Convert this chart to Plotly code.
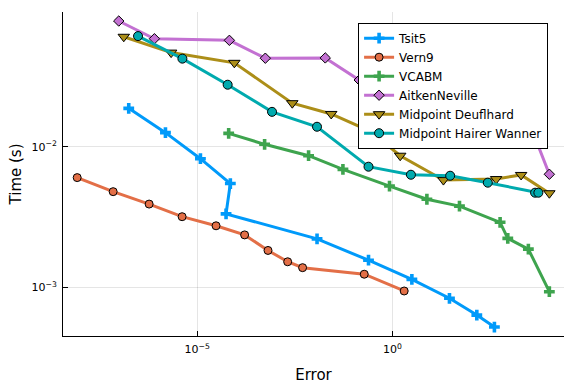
import plotly.graph_objects as go

# ---- data (Error, Time in seconds) ----
tsit5_err = [1.77e-7, 1.54e-6, 1.21e-5, 7.06e-5, 5.48e-5, 1.17e-2, 0.243, 3.13, 28.7, 144, 406]
tsit5_time = [0.01875, 0.01259, 0.00822, 0.00547, 0.00333, 0.00221, 0.00156, 0.00114, 0.000836, 0.000635, 0.000522]

vern9_err = [8.47e-9, 7.06e-8, 5.89e-7, 4.11e-6, 3.04e-5, 1.64e-4, 6.50e-4, 2.07e-3, 4.99e-3, 0.189, 1.99]
vern9_time = [0.00603, 0.00479, 0.00391, 0.00318, 0.00274, 0.00236, 0.00183, 0.00152, 0.00138, 0.00124, 0.000942]

vcabm_err = [6.40e-5, 5.32e-4, 7.11e-3, 0.0538, 0.838, 7.59, 51.8, 568, 893, 3006, 10350]
vcabm_time = [0.01245, 0.0104, 0.00863, 0.0069, 0.00525, 0.00423, 0.00378, 0.0029, 0.00223, 0.00187, 0.000931]

aitken_err = [9.82e-8, 8.04e-7, 6.67e-5, 5.55e-4, 0.019, 0.1406, 5.1, 383, 4036, 10350]
aitken_time = [0.0783, 0.0586, 0.0571, 0.0426, 0.0428, 0.0298, 0.0222, 0.0168, 0.01245, 0.00637]

deuf_err = [1.32e-7, 2.15e-6, 8.93e-5, 2.72e-3, 0.027, 0.2805, 1.574, 20.1, 449, 1959, 10350]
deuf_time = [0.0605, 0.0467, 0.0395, 0.0204, 0.0171, 0.0128, 0.00863, 0.00579, 0.00589, 0.00630, 0.00467]

hw_err = [3.06e-7, 4.18e-6, 6.03e-5, 8.24e-4, 0.01167, 0.243, 2.96, 29.9, 275, 4467, 5420]
hw_time = [0.0612, 0.0423, 0.0276, 0.0177, 0.01387, 0.00721, 0.00632, 0.00622, 0.00555, 0.00471, 0.00471]

names = ["Tsit5", "Vern9", "VCABM", "AitkenNeville", "Midpoint Deuflhard", "Midpoint Hairer Wanner"]
colors = ["#009AFA", "#E36F47", "#3EA44E", "#C371D2", "#AC8E18", "#00AAAE"]

x_tickvals = [1e-5, 1]
x_ticktext = ["10<sup>−5</sup>", "10<sup>0</sup>"]
y_tickvals = [1e-3, 1e-2]
y_ticktext = ["10<sup>−3</sup>", "10<sup>−2</sup>"]

series = [
    (tsit5_err, tsit5_time, "cross", 9, 0),
    (vern9_err, vern9_time, "circle", 8, 1),
    (vcabm_err, vcabm_time, "cross", 9, 0),
    (aitken_err, aitken_time, "diamond", 8, 1),
    (deuf_err, deuf_time, "triangle-down", 10, 1),
    (hw_err, hw_time, "circle", 9, 1),
]

fig = go.Figure()
for (xs, ys, sym, sz, lw), name, col in zip(series, names, colors):
    fig.add_trace(go.Scatter(
        x=xs, y=ys, name=name, mode="lines+markers",
        line=dict(color=col, width=3),
        marker=dict(symbol=sym, size=sz, color=col,
                    line=dict(color="black" if lw else col, width=lw)),
    ))

axis_common = dict(
    type="log", showgrid=True, gridcolor="rgba(0,0,0,0.1)", gridwidth=1,
    zeroline=False, showline=True, linecolor="black", linewidth=1,
    ticks="inside", ticklen=5, tickcolor="black",
    tickfont=dict(family="DejaVu Sans", size=11, color="black"),
    mirror=False, automargin=False,
)

fig.update_layout(
    width=576, height=384,
    paper_bgcolor="white", plot_bgcolor="white",
    margin=dict(l=63, r=12, t=12, b=48),
    font=dict(family="DejaVu Sans", color="black"),
    xaxis=dict(axis_common, range=[-8.435, 4.39], tickvals=x_tickvals, ticktext=x_ticktext,
               ticklabelstandoff=3,
               title=dict(text="Error", font=dict(size=15), standoff=14)),
    yaxis=dict(axis_common, range=[-3.346, -1.042], tickvals=y_tickvals, ticktext=y_ticktext,
               ticklabelstandoff=3,
               title=dict(text="Time (s)", font=dict(size=15), standoff=6)),
    legend=dict(x=0.589, y=0.967, xanchor="left", yanchor="top",
                bgcolor="white", bordercolor="black", borderwidth=1,
                font=dict(size=12), tracegroupgap=0, itemwidth=30),
    showlegend=True,
)

fig.write_html("out.html", config={"displayModeBar": False},
               post_script="document.body.style.margin='0';document.body.style.padding='0';")
